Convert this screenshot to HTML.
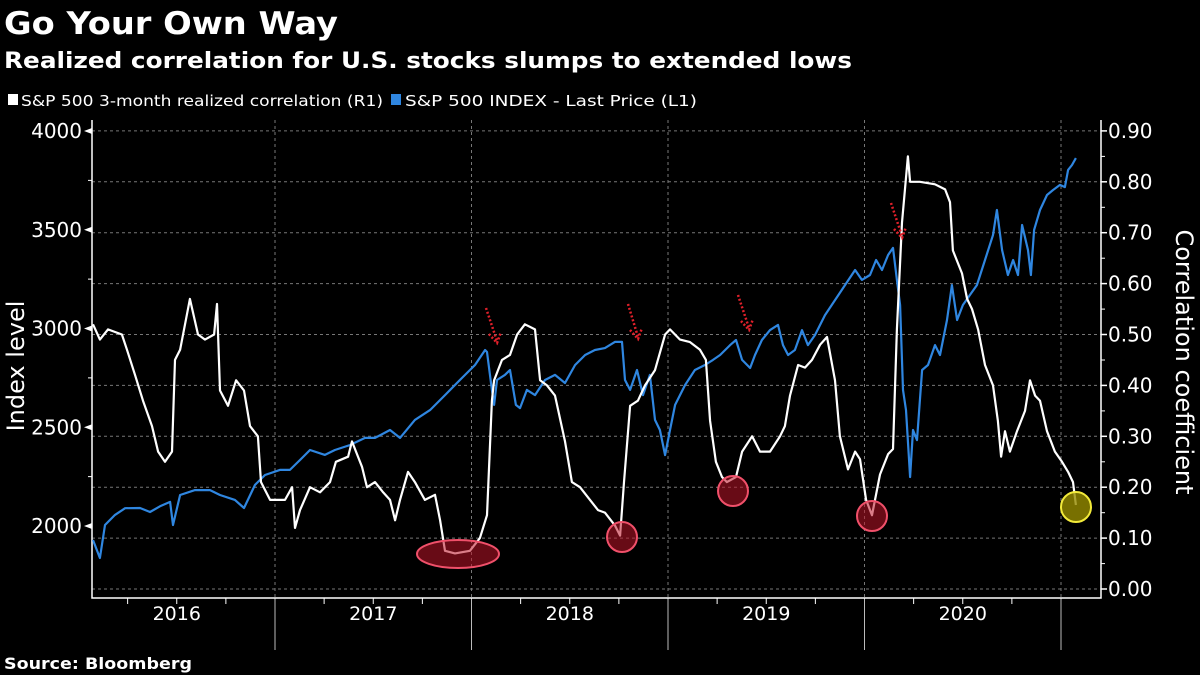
<!DOCTYPE html>
<html><head><meta charset="utf-8">
<style>
html,body{margin:0;padding:0;background:#000;width:1200px;height:675px;overflow:hidden}
svg{display:block}
text{font-family:"DejaVu Sans","Liberation Sans",sans-serif;fill:#fff}
</style></head>
<body>
<svg id="chart" width="1200" height="675" viewBox="0 0 1200 675">
<text x="4" y="34" font-size="31" font-weight="bold" textLength="334" lengthAdjust="spacingAndGlyphs">Go Your Own Way</text>
<text x="4" y="68" font-size="22" font-weight="bold" textLength="848" lengthAdjust="spacingAndGlyphs">Realized correlation for U.S. stocks slumps to extended lows</text>
<g>
<g><rect x="8" y="94" width="10" height="11" fill="#fff"/><text x="21" y="106" font-size="15" textLength="362" lengthAdjust="spacingAndGlyphs">S&amp;P 500 3-month realized correlation (R1)</text></g>
<g><rect x="391" y="94" width="10" height="11" fill="#2f86e0"/><text x="405" y="106" font-size="15" textLength="292" lengthAdjust="spacingAndGlyphs">S&amp;P 500 INDEX - Last Price (L1)</text></g>
</g>
<text x="4" y="669" font-size="16" font-weight="bold" textLength="188" lengthAdjust="spacingAndGlyphs">Source: Bloomberg</text>
<text transform="translate(24,366) rotate(-90)" text-anchor="middle" font-size="24" font-family="Liberation Sans, sans-serif">Index level</text>
<text transform="translate(1176,362) rotate(90)" text-anchor="middle" font-size="24" font-family="Liberation Sans, sans-serif">Correlation coefficient</text>
<g id="grid"></g><g id="axes"></g><g id="series"></g><g id="annot"></g>
</svg>
<script>
const corrDates=[2016.074,2016.109,2016.150,2016.221,2016.247,2016.288,2016.328,2016.374,2016.405,2016.440,2016.476,2016.491,2016.517,2016.552,2016.567,2016.608,2016.644,2016.690,2016.705,2016.720,2016.761,2016.802,2016.842,2016.873,2016.913,2016.929,2016.975,2017.051,2017.087,2017.102,2017.127,2017.178,2017.229,2017.280,2017.310,2017.372,2017.392,2017.412,2017.443,2017.468,2017.509,2017.550,2017.585,2017.611,2017.636,2017.677,2017.712,2017.763,2017.814,2017.840,2017.865,2017.916,2017.992,2018.043,2018.079,2018.104,2018.115,2018.155,2018.196,2018.232,2018.272,2018.323,2018.349,2018.384,2018.425,2018.476,2018.511,2018.552,2018.603,2018.644,2018.679,2018.730,2018.756,2018.776,2018.807,2018.847,2018.883,2018.934,2018.985,2019.010,2019.061,2019.112,2019.163,2019.193,2019.214,2019.244,2019.275,2019.300,2019.346,2019.377,2019.428,2019.468,2019.519,2019.570,2019.595,2019.621,2019.662,2019.697,2019.733,2019.774,2019.809,2019.850,2019.875,2019.916,2019.952,2019.977,2020.008,2020.038,2020.079,2020.120,2020.145,2020.165,2020.191,2020.221,2020.232,2020.282,2020.359,2020.410,2020.435,2020.450,2020.496,2020.522,2020.547,2020.578,2020.613,2020.654,2020.679,2020.695,2020.715,2020.740,2020.776,2020.817,2020.842,2020.868,2020.893,2020.929,2020.969,2021.005,2021.036,2021.061,2021.076];
const corrValues=[0.52,0.49,0.51,0.50,0.47,0.42,0.37,0.32,0.27,0.25,0.27,0.45,0.47,0.54,0.57,0.50,0.49,0.50,0.56,0.39,0.36,0.41,0.39,0.32,0.30,0.21,0.175,0.175,0.20,0.12,0.155,0.20,0.19,0.21,0.25,0.26,0.29,0.27,0.24,0.20,0.21,0.19,0.175,0.135,0.175,0.23,0.21,0.175,0.185,0.135,0.075,0.07,0.075,0.10,0.145,0.37,0.41,0.45,0.46,0.50,0.52,0.51,0.41,0.40,0.38,0.29,0.21,0.20,0.175,0.155,0.15,0.125,0.105,0.21,0.36,0.37,0.40,0.43,0.50,0.51,0.49,0.485,0.47,0.45,0.33,0.25,0.22,0.21,0.22,0.27,0.30,0.27,0.27,0.30,0.32,0.38,0.44,0.435,0.45,0.48,0.495,0.41,0.30,0.235,0.27,0.255,0.175,0.145,0.225,0.265,0.275,0.51,0.72,0.85,0.80,0.80,0.795,0.785,0.76,0.665,0.62,0.57,0.55,0.51,0.44,0.40,0.33,0.26,0.31,0.27,0.31,0.35,0.41,0.38,0.37,0.31,0.27,0.25,0.23,0.21,0.165];
const spxDates=[2016.074,2016.109,2016.135,2016.186,2016.237,2016.313,2016.364,2016.415,2016.466,2016.481,2016.517,2016.593,2016.669,2016.720,2016.796,2016.842,2016.898,2016.949,2017.025,2017.076,2017.127,2017.178,2017.254,2017.305,2017.382,2017.458,2017.509,2017.585,2017.636,2017.712,2017.789,2017.865,2017.941,2018.018,2018.069,2018.079,2018.104,2018.115,2018.130,2018.170,2018.196,2018.226,2018.247,2018.282,2018.323,2018.374,2018.425,2018.476,2018.527,2018.578,2018.628,2018.679,2018.730,2018.766,2018.781,2018.807,2018.842,2018.873,2018.908,2018.934,2018.959,2018.985,2019.010,2019.036,2019.087,2019.137,2019.188,2019.229,2019.265,2019.316,2019.346,2019.377,2019.418,2019.443,2019.478,2019.519,2019.560,2019.585,2019.611,2019.646,2019.682,2019.712,2019.748,2019.799,2019.850,2019.901,2019.952,2019.987,2020.028,2020.059,2020.089,2020.120,2020.145,2020.165,2020.181,2020.196,2020.211,2020.232,2020.247,2020.267,2020.293,2020.323,2020.359,2020.384,2020.420,2020.445,2020.471,2020.501,2020.537,2020.572,2020.613,2020.654,2020.674,2020.700,2020.730,2020.756,2020.781,2020.802,2020.832,2020.847,2020.863,2020.893,2020.929,2020.959,2020.995,2021.020,2021.036,2021.056,2021.076];
const spxValues=[1929,1838,2005,2056,2090,2091,2071,2100,2122,2005,2157,2182,2182,2157,2132,2091,2208,2258,2284,2284,2334,2385,2360,2385,2410,2446,2446,2486,2446,2537,2587,2663,2739,2815,2891,2881,2689,2613,2739,2765,2790,2613,2597,2689,2663,2739,2765,2724,2815,2866,2891,2901,2932,2932,2739,2689,2790,2663,2765,2537,2486,2359,2486,2613,2714,2790,2815,2841,2866,2916,2942,2841,2800,2866,2942,2992,3018,2916,2866,2891,2992,2916,2967,3068,3144,3220,3296,3246,3271,3347,3296,3372,3408,3246,3119,2689,2587,2248,2486,2435,2790,2815,2916,2866,3043,3220,3043,3119,3170,3220,3347,3473,3600,3397,3271,3347,3271,3524,3397,3271,3499,3600,3676,3701,3727,3716,3803,3828,3863];
const leftTicks=[4000,3500,3000,2500,2000];
const rightTicks=[0.90,0.80,0.70,0.60,0.50,0.40,0.30,0.20,0.10,0.00];
const yearLabels=["2016","2017","2018","2019","2020"];

const X0=92,X1=1101,YB=598;
const xS=t=>78.5+(t-2016)*196.5;
const yL=v=>131+(4000-v)*0.1975;
const yR=v=>589-v*509;
const NS="http://www.w3.org/2000/svg";
function mk(tag,attrs,parent){const e=document.createElementNS(NS,tag);for(const k in attrs)e.setAttribute(k,attrs[k]);parent.appendChild(e);return e;}
const grid=document.getElementById('grid'),axes=document.getElementById('axes'),series=document.getElementById('series'),annot=document.getElementById('annot');

rightTicks.forEach(v=>{const y=yR(v);
 const g=mk('line',{x1:X0,x2:X1,y1:y,y2:y,stroke:'#777','stroke-width':1,'stroke-dasharray':'3,3'},grid);
 
 
 const tk=mk('line',{x1:X1,x2:X1+6,y1:y,y2:y,stroke:'#fff','stroke-width':1.5},axes);
 
 
 const t=mk('text',{x:X1+7,y:y+7,'font-size':20,'font-family':'Liberation Sans, sans-serif'},axes);t.textContent=v.toFixed(2);
 
 
 if(v>0){const m=mk('line',{x1:X1,x2:X1+4,y1:y+25.5,y2:y+25.5,stroke:'#fff'},axes);
 
 }
});
for(let v=2000;v<=4000;v+=250){const y=yL(v);
 const m=mk('line',{x1:X0-4,x2:X0,y1:y,y2:y,stroke:'#fff'},axes);
 
 
}
leftTicks.forEach(v=>{const y=yL(v);
 const p=mk('path',{d:`M${X0-8} ${y} L${X0} ${y-3} L${X0} ${y+3}Z`,fill:'#fff'},axes);
 
 
 const t=mk('text',{x:X0-10,y:y+7,'font-size':20,'text-anchor':'end','font-family':'Liberation Sans, sans-serif'},axes);t.textContent=v;
 
 
});
yearLabels.forEach((lab,i)=>{const yr=2016+i;
 const xb=xS(yr+1);
 const g=mk('line',{x1:xb,x2:xb,y1:120,y2:YB,stroke:'#777','stroke-dasharray':'3,3'},grid);
 
 
 const d=mk('line',{x1:xb,x2:xb,y1:YB,y2:650,stroke:'#bbb'},axes);
 
 
 for(let q=1;q<4;q++){const xq=xS(yr+q/4);
  const tq=mk('line',{x1:xq,x2:xq,y1:YB,y2:YB+6,stroke:'#fff'},axes);
  
  }
 const t=mk('text',{x:xS(yr+0.5),y:620,'font-size':19,'text-anchor':'middle','font-family':'Liberation Sans, sans-serif'},axes);t.textContent=lab;
 
 
});
const ax=mk('path',{d:`M${X0} 120 V${YB} H${X1} V120`,stroke:'#fff',fill:'none','stroke-width':1.5},axes);



const spxPath=mk('path',{d:spxDates.map((t,i)=>(i?'L':'M')+xS(t).toFixed(1)+' '+yL(spxValues[i]).toFixed(1)).join(''),stroke:'#2f86e0',fill:'none','stroke-width':2.2,'stroke-linejoin':'round'},series);


const corrPath=mk('path',{d:corrDates.map((t,i)=>(i?'L':'M')+xS(t).toFixed(1)+' '+yR(corrValues[i]).toFixed(1)).join(''),stroke:'#fff',fill:'none','stroke-width':2.2,'stroke-linejoin':'round'},series);



const e1=mk('ellipse',{cx:458,cy:554,rx:41,ry:14,fill:'rgba(190,20,40,0.55)',stroke:'#f0506a','stroke-width':2},annot);


[[622,537,'low-highlight-2018'],[733,491,'low-highlight-2019'],[872,516,'low-highlight-2020']].forEach(c=>{
 const el=mk('circle',{cx:c[0],cy:c[1],r:15,fill:'rgba(190,20,40,0.55)',stroke:'#f0506a','stroke-width':2},annot);
 
 
});
const yc=mk('circle',{cx:1076,cy:507,r:15,fill:'rgba(150,140,0,0.8)',stroke:'#f2ea3a','stroke-width':2},annot);


[[486,308,497,343],[628,304,638,339],[738,295,749,330],[891,203,902,238]].forEach(a=>{
 const g=mk('g',{},annot);
 
 
 mk('line',{x1:a[0],y1:a[1],x2:a[2],y2:a[3]-2,stroke:'#e0202a','stroke-width':2.5,'stroke-dasharray':'2,2'},g);
 mk('path',{d:`M${a[2]-8} ${a[3]-9} L${a[2]} ${a[3]} L${a[2]+4} ${a[3]-11}`,stroke:'#e0202a','stroke-width':2.5,fill:'none','stroke-dasharray':'2,2'},g);
});
</script>
</body></html>
